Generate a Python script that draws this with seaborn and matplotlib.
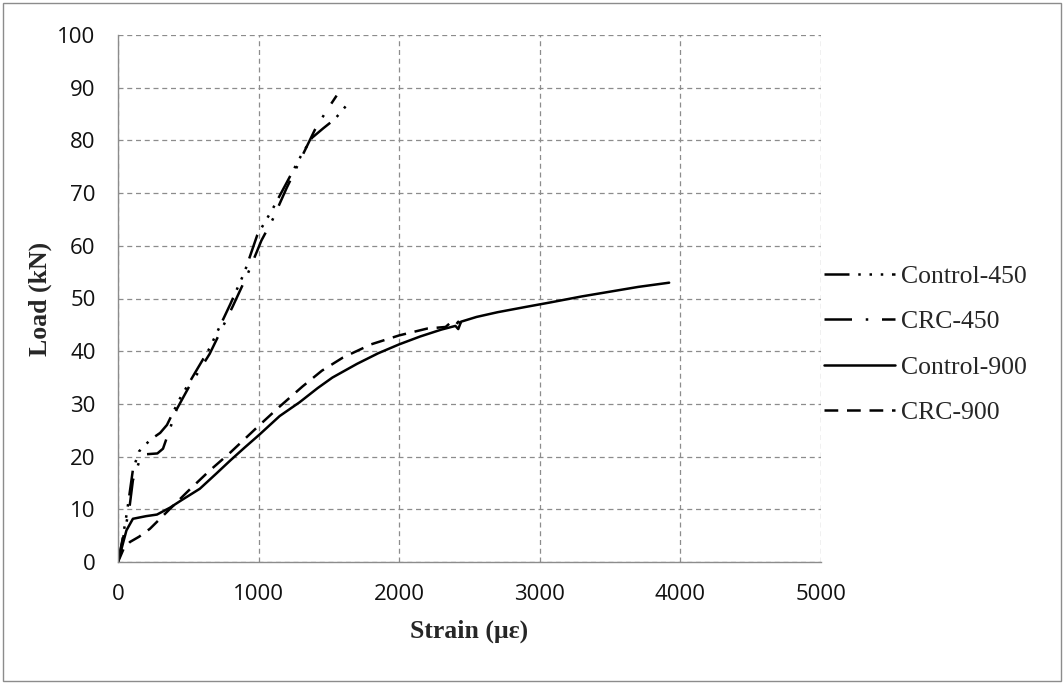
import matplotlib
matplotlib.use("Agg")
import matplotlib.pyplot as plt
import seaborn as sns
import pandas as pd
from matplotlib.patches import Rectangle

# ---- data (strain in micro-strain, load in kN) ----
ctrl450_x = [0, 30, 64, 106, 150, 230, 300, 348, 440, 550, 650, 800, 900, 990, 1100, 1200, 1300, 1380, 1460, 1540, 1590, 1650]
ctrl450_y = [0, 4, 9.5, 17.5, 21, 23.2, 24.5, 26, 31, 36, 40.5, 49, 55, 62, 67, 72, 77, 80.5, 82.3, 84, 85.5, 87.5]

crc450_x = [0, 40, 80, 106, 150, 177, 280, 320, 418, 500, 652, 816, 920, 1020, 1100, 1200, 1300, 1400, 1480, 1555]
crc450_y = [0, 5, 10, 15.5, 19, 20.4, 20.6, 21.5, 29, 33, 39.5, 48.5, 54.5, 61, 65, 71, 76.5, 82, 85.5, 88.5]

ctrl900_x = [0, 30, 60, 106, 200, 277, 369, 450, 582, 700, 800, 900, 1007, 1150, 1291, 1420, 1525, 1700, 1850, 2000,
             2150, 2300, 2400, 2420, 2440, 2550, 2700, 2900, 3064, 3300, 3500, 3700, 3920]
ctrl900_y = [0, 3, 6, 8.2, 8.7, 9.0, 10.3, 11.7, 13.9, 16.8, 19.3, 21.7, 24.2, 27.7, 30.3, 33, 35, 37.6, 39.6, 41.3,
             42.8, 44.1, 44.8, 44.2, 45.6, 46.5, 47.4, 48.4, 49.2, 50.4, 51.3, 52.2, 53]

crc900_x = [0, 40, 85, 150, 227, 348, 500, 650, 800, 1007, 1150, 1312, 1450, 1600, 1800, 2000, 2200, 2330, 2360, 2400, 2420, 2440]
crc900_y = [0, 2.5, 3.8, 4.8, 6.3, 9.5, 13.5, 17.3, 20.8, 26, 29.5, 33.3, 36.3, 38.8, 41.3, 43, 44.3, 44.6, 45.3, 44.9, 45.6, 45.2]

series_names = ["Control-450", "CRC-450", "Control-900", "CRC-900"]
x_ticks = [0, 1000, 2000, 3000, 4000, 5000]
y_ticks = [0, 10, 20, 30, 40, 50, 60, 70, 80, 90, 100]

# ---- styling ----
sns.set_style("white")
plt.rcParams['font.family'] = ['Liberation Serif', 'DejaVu Serif']

fig = plt.figure(figsize=(10.64, 6.84), dpi=100)
ax = fig.add_axes([118/1064, 1 - 562/684, (821-118)/1064, (562-35)/684])

data = [(ctrl450_x, ctrl450_y), (crc450_x, crc450_y), (ctrl900_x, ctrl900_y), (crc900_x, crc900_y)]
styles = [(0, (10, 3.5, 1, 3.5, 1, 3.5, 1, 3.5)),
          (0, (11, 5.5, 1, 5.5)),
          '-',
          (0, (5.5, 3.5))]

for (xs, ys), name, ls in zip(data, series_names, styles):
    df = pd.DataFrame({"Strain": xs, "Load": ys})
    n_before = len(ax.lines)
    sns.lineplot(data=df, x="Strain", y="Load", sort=False, estimator=None,
                 color="black", linewidth=1.8, ax=ax, legend=False)
    line = ax.lines[n_before]
    line.set_linestyle(ls)
    line.set_label(name)
    line.set_dash_capstyle('butt')

ax.set_xlim(0, 5000)
ax.set_ylim(0, 100)
ax.set_xticks(x_ticks)
ax.set_yticks(y_ticks)

ax.grid(True, color="#8c8c8c", linestyle=(0, (4, 3)), linewidth=0.9)
ax.set_axisbelow(True)
for s in ["top", "right"]:
    ax.spines[s].set_visible(False)
for s in ["left", "bottom"]:
    ax.spines[s].set_color("#8c8c8c")
    ax.spines[s].set_linewidth(1.0)

ax.tick_params(axis='x', length=0, pad=16)
ax.tick_params(axis='y', length=3.6, width=0.9, color="#8c8c8c", direction='out', pad=12.5)
for lab in ax.get_xticklabels() + ax.get_yticklabels():
    lab.set_fontfamily(['Open Sans', 'DejaVu Sans'])
    lab.set_fontsize(16)
    lab.set_color("#111111")

ax.set_xlabel("Strain (με)", fontsize=18.5, fontweight='bold', family=['Liberation Serif', 'DejaVu Serif'])
ax.set_ylabel("Load (kN)", fontsize=18.5, fontweight='bold', family=['Liberation Serif', 'DejaVu Serif'])
ax.xaxis.set_label_coords(0.5, (562-620)/527)
ax.yaxis.set_label_coords((52-118)/703, 0.5)

handles = ax.lines[:4]
fig.legend(handles=handles, labels=series_names, loc='center left',
           bbox_to_anchor=(824/1064, 1 - 344.5/684), frameon=False,
           prop={'family': 'Liberation Serif', 'size': 18.5},
           handlelength=2.75, handletextpad=0.25, labelspacing=0.86,
           borderpad=0, borderaxespad=0)

fig.patches.append(Rectangle((3/1064, 3/684), 1 - 6/1064, 1 - 6/684, transform=fig.transFigure,
                             fill=False, edgecolor="#8c8c8c", linewidth=1.0))

fig.savefig("out.png", dpi=100)
